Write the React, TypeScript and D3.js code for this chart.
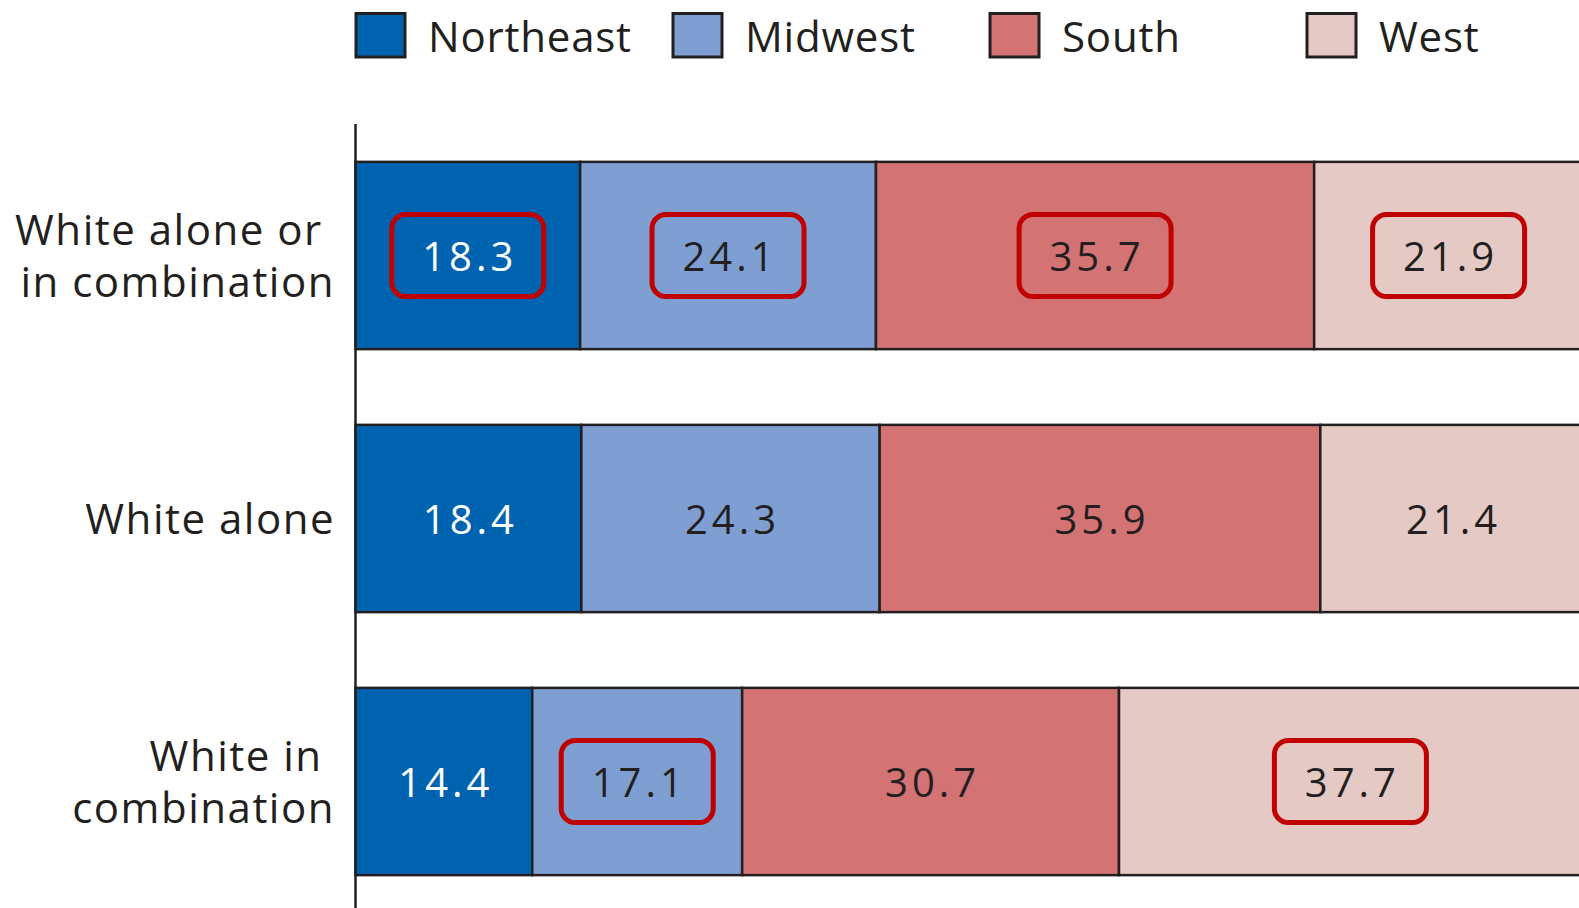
import React from 'react';
import * as d3 from 'd3';

const categories = ['White alone or in combination', 'White alone', 'White in combination'];
const categoryLines = [['White alone or ', 'in combination'], ['White alone'], ['White in ', 'combination']];
const series = ['Northeast', 'Midwest', 'South', 'West'];
const northeast = [18.3, 18.4, 14.4];
const midwest = [24.1, 24.3, 17.1];
const south = [35.7, 35.9, 30.7];
const west = [21.9, 21.4, 37.7];
// cells circled in red in the original: [category index, series]
const highlighted = [[0, 'Northeast'], [0, 'Midwest'], [0, 'South'], [0, 'West'], [2, 'Midwest'], [2, 'West']];

const colors = ['#0063b0', '#7f9fd3', '#d47374', '#e5c9c5'];
const ink = '#231f20';
const font = '"Open Sans", sans-serif';

export default function App() {
  const W = 1579, H = 908;
  const rows = categories.map((c, i) => ({
    category: c,
    Northeast: northeast[i],
    Midwest: midwest[i],
    South: south[i],
    West: west[i],
  }));
  const stacked = d3.stack<any>().keys(series)(rows);

  const x = d3.scaleLinear().domain([0, 100]).range([355.5, 1583]);
  const y = d3.scaleBand().domain(categories).range([124, 913]).paddingInner(0.288).paddingOuter(0.144);
  const color = d3.scaleOrdinal<string, string>().domain(series).range(colors);
  const legendX = d3.scalePoint().domain(series).range([356, 1307]);

  const bw = y.bandwidth();

  return (
    <svg width={W} height={H} style={{ position: 'absolute', left: 0, top: 0, background: '#fff' }}>
      {/* legend */}
      {series.map(s => (
        <g key={s} transform={`translate(${legendX(s)},0)`}>
          <rect x={0} y={13.5} width={49} height={43.5} fill={color(s)} stroke={ink} strokeWidth={3} />
          <text x={72} y={51.5} fontFamily={font} fontSize={42} letterSpacing={0.8} fill={ink}>{s}</text>
        </g>
      ))}

      {/* category axis line */}
      <line x1={x(0)} x2={x(0)} y1={y.range()[0]} y2={H} stroke={ink} strokeWidth={2.5} />

      {/* bars */}
      {stacked.map(layer => (
        <g key={layer.key}>
          {layer.map((d, i) => {
            const cat = categories[i];
            const x0 = x(d[0]), x1 = x(d[1]);
            const yc = (y(cat) as number) + bw / 2;
            const val = (rows[i] as any)[layer.key] as number;
            const boxed = highlighted.some(h => h[0] === i && h[1] === layer.key);
            return (
              <g key={cat}>
                <rect x={x0} y={y(cat)} width={x1 - x0} height={bw}
                  fill={color(layer.key)} stroke={ink} strokeWidth={2.5} />
                <text x={(x0 + x1) / 2 + 2} y={yc + 15} textAnchor="middle" fontFamily={font} fontSize={40}
                  letterSpacing={4}
                  fill={layer.key === 'Northeast' ? '#ffffff' : ink}>{val.toFixed(1)}</text>
                {boxed && (
                  <rect x={(x0 + x1) / 2 - 76} y={yc - 41} width={152} height={82} rx={14}
                    fill="none" stroke="#c00000" strokeWidth={5} />
                )}
              </g>
            );
          })}
        </g>
      ))}

      {/* category labels */}
      {categories.map((c, i) => {
        const lines = categoryLines[i];
        const yc = (y(c) as number) + bw / 2;
        const first = yc + 15 - (lines.length - 1) * 26;
        return (
          <text key={c} textAnchor="end" fontFamily={font} fontSize={42} letterSpacing={1.5} fill={ink}
            style={{ whiteSpace: 'pre' }}>
            {lines.map((l, j) => (
              <tspan key={j} x={335} y={first + j * 52}>{l}</tspan>
            ))}
          </text>
        );
      })}
    </svg>
  );
}
